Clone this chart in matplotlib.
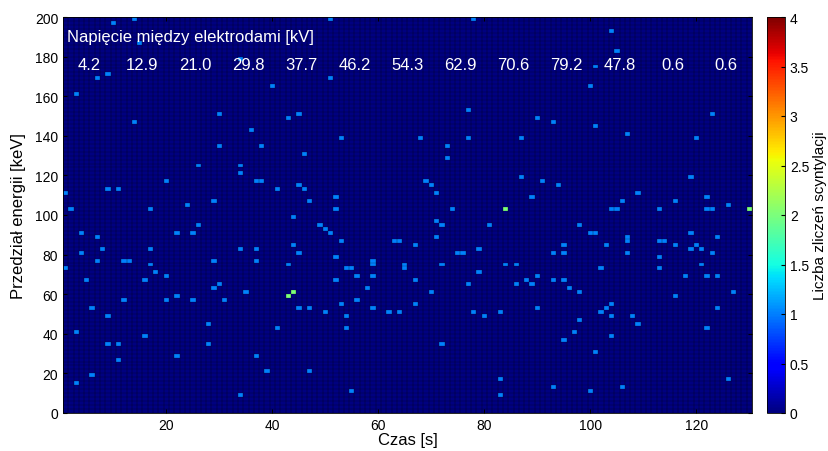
import numpy as np
import matplotlib
matplotlib.use('Agg')
import matplotlib.pyplot as plt
from matplotlib.ticker import FuncFormatter

# time bin [s], energy bin centre [keV], number of scintillations in that cell
time_s = [10, 14, 15, 7, 9, 3, 30, 14, 30, 51, 51, 40, 45, 43, 36, 53, 38, 34,
          78, 77, 90, 93, 68, 77, 87, 73, 104, 105, 101, 100, 123, 101, 107, 120,
          26, 20, 9, 11, 1, 29, 24, 2, 17, 26, 4, 22, 25, 7, 8, 17, 4, 7, 12, 13,
          29, 17, 1, 18, 20, 5, 16,
          46, 34, 34, 37, 38, 41, 45, 46, 52, 47, 52, 44, 49, 50, 51, 53, 63, 64,
          44, 34, 37, 45, 37, 52, 59, 43, 59, 65, 65, 54, 55, 56, 59, 52,
          73, 87, 69, 70, 91, 94, 71, 89, 84, 74, 71, 72, 81, 98, 71, 67, 95, 79,
          75, 76, 93, 95, 72, 84, 86, 79, 90, 67, 88, 93, 95,
          119, 109, 122, 106, 116, 126, 104, 105, 113, 122, 123, 130, 100, 101,
          119, 107, 124, 107, 113, 114, 103, 116, 120, 119, 121, 107, 123, 113,
          121, 102, 113, 118, 122, 124,
          30, 29, 22, 12, 20, 25, 31, 6, 9, 28, 3, 16, 9, 11, 28, 22, 11, 6, 3,
          35, 43, 44, 58, 56, 53, 45, 47, 59, 50, 62, 64, 54, 41, 54, 37, 39, 47,
          34, 55,
          77, 86, 89, 70, 96, 98, 67, 90, 78, 83, 80, 98, 97, 95, 72, 83, 93, 83,
          116, 127, 104, 103, 102, 124, 104, 108, 109, 122, 104, 101, 126, 106, 100]
energy_kev = [197, 199, 187, 169, 171, 161, 151, 147, 135, 199, 169, 165, 151, 149,
              143, 139, 135, 179,
              199, 153, 149, 147, 139, 139, 139, 135, 193, 183, 175, 165, 151, 145,
              141, 139,
              125, 117, 113, 113, 111, 107, 105, 103, 103, 95, 91, 91, 91, 89, 83,
              83, 81, 77, 77, 77, 77, 75, 73, 71, 69, 67, 67,
              131, 125, 121, 117, 117, 113, 115, 113, 109, 107, 103, 99, 95, 93, 91,
              87, 87, 87, 85, 83, 83, 81, 77, 79, 77, 75, 75, 75, 73, 73, 73, 69,
              69, 67,
              129, 119, 117, 115, 117, 115, 111, 109, 103, 103, 97, 95, 95, 95, 89,
              85, 85, 83, 81, 81, 81, 81, 75, 75, 75, 71, 69, 67, 67, 67, 67,
              119, 111, 109, 107, 107, 105, 103, 103, 103, 103, 103, 103, 91, 91,
              91, 89, 89, 87, 87, 87, 85, 85, 85, 83, 83, 81, 81, 79, 75, 73, 73,
              69, 69, 69,
              65, 63, 59, 57, 57, 57, 57, 53, 49, 45, 41, 39, 35, 35, 35, 29, 27,
              19, 15,
              61, 59, 61, 63, 57, 55, 53, 53, 53, 51, 51, 51, 49, 43, 43, 29, 21, 21,
              9, 11,
              65, 65, 65, 61, 63, 61, 55, 53, 51, 51, 49, 47, 41, 37, 35, 17, 13, 9,
              59, 61, 55, 53, 51, 53, 49, 49, 45, 43, 39, 31, 17, 13, 11]
double_cells = [(84, 103), (130, 103), (43, 59), (44, 61)]
n_counts = [2 if (t, e) in double_cells else 1 for t, e in zip(time_s, energy_kev)]

voltage_kv = ['4.2', '12.9', '21.0', '29.8', '37.7', '46.2', '54.3', '62.9',
              '70.6', '79.2', '47.8', '0.6', '0.6']

n_t, n_e, de = 130, 100, 2
grid = np.zeros((n_e, n_t))
for t, e, n in zip(time_s, energy_kev, n_counts):
    grid[int(e // de), t - 1] = n
t_edges = np.arange(n_t + 1) + 0.5
e_edges = np.arange(n_e + 1) * de

plt.rcParams['font.family'] = ['Liberation Sans', 'DejaVu Sans']
fig = plt.figure(figsize=(8.29, 4.52), dpi=100)
ax = fig.add_axes([63 / 829, 38 / 452, 689 / 829, 396 / 452])
cax = fig.add_axes([767 / 829, 38 / 452, 18 / 829, 396 / 452])

mesh = ax.pcolormesh(t_edges, e_edges, grid, cmap='jet', vmin=0, vmax=4,
                     edgecolors='none')
# faceted cell edges, as in the original figure
ax.vlines(t_edges, 0, 200, colors='black', linewidth=0.35, alpha=0.6)
ax.hlines(e_edges, t_edges[0], t_edges[-1], colors='black', linewidth=0.3,
          alpha=0.5)
ax.set_xlim(t_edges[0], t_edges[-1])
ax.set_ylim(0, 200)
ax.set_xticks([20, 40, 60, 80, 100, 120])
ax.set_yticks(range(0, 201, 20))
ax.tick_params(direction='in', labelsize=10, length=3, top=True, right=True)
ax.set_xlabel('Czas [s]', fontsize=12, labelpad=0)
ax.set_ylabel('Przedział energii [keV]', fontsize=12, labelpad=6)
for sp in ax.spines.values():
    sp.set_linewidth(0.6)

ax.text(0.006, 0.95, 'Napięcie między elektrodami [kV]', transform=ax.transAxes,
        color='white', fontsize=12, ha='left', va='center')
for k, v in enumerate(voltage_kv):
    ax.text(5.5 + 10 * k, 0.88, v, transform=ax.get_xaxis_transform(),
            color='white', fontsize=12, ha='center', va='center')

cb = fig.colorbar(mesh, cax=cax)
cb.set_ticks(np.arange(0, 4.01, 0.5))
cb.ax.yaxis.set_major_formatter(FuncFormatter(lambda v, p: '%g' % v))
cb.ax.tick_params(direction='in', labelsize=10, length=3)
cb.outline.set_linewidth(0.6)
cb.set_label('Liczba zliczeń scyntylacji', fontsize=11, labelpad=3)

fig.savefig('out.png', dpi=100)
